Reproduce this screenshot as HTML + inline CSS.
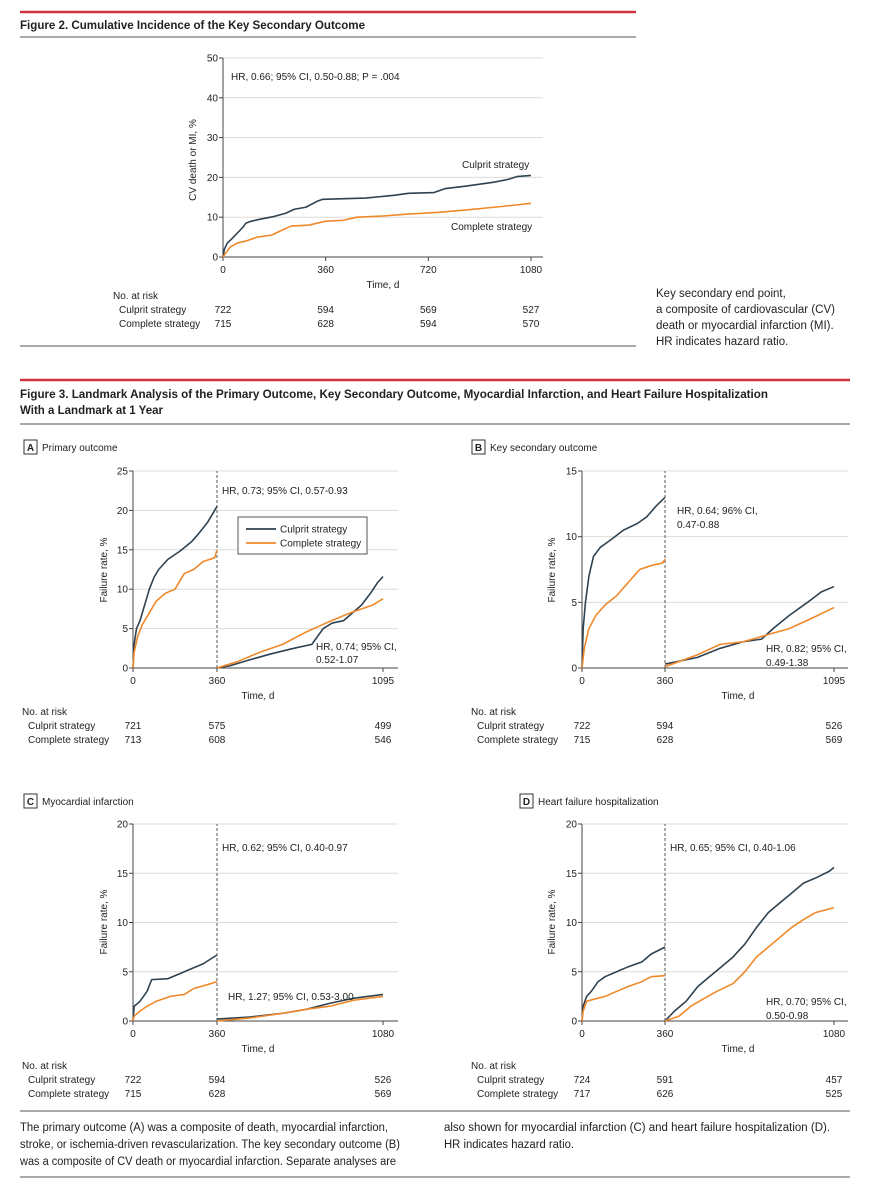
<!DOCTYPE html>
<html><head><meta charset="utf-8"><style>
body{margin:0;background:#fff;}
svg{display:block;font-family:"Liberation Sans",sans-serif;}
.t{font-size:10px;fill:#222}
.c{font-size:11.5px;fill:#222}
.h{font-size:12px;font-weight:bold;fill:#222}
</style></head><body>
<svg id="fig" width="871" height="1200" viewBox="0 0 871 1200">
<rect width="871" height="1200" fill="#fff"/>
<g>
<line x1="20" y1="12" x2="636" y2="12" stroke="#d0323f" stroke-width="2.5"/>
<text x="20" y="29" class="h" textLength="345" lengthAdjust="spacingAndGlyphs">Figure 2. Cumulative Incidence of the Key Secondary Outcome</text>
<line x1="20" y1="37" x2="636" y2="37" stroke="#777" stroke-width="1.2"/>
<line x1="20" y1="346" x2="636" y2="346" stroke="#777" stroke-width="1.2"/>
</g>
<g>
<text x="656" y="297" class="c">Key secondary end point,</text>
<text x="656" y="313" class="c">a composite of cardiovascular (CV)</text>
<text x="656" y="329" class="c">death or myocardial infarction (MI).</text>
<text x="656" y="345" class="c">HR indicates hazard ratio.</text>
</g>
<g>
<line x1="20" y1="380" x2="850" y2="380" stroke="#d0323f" stroke-width="2.5"/>
<text x="20" y="398" class="h" textLength="748" lengthAdjust="spacingAndGlyphs">Figure 3. Landmark Analysis of the Primary Outcome, Key Secondary Outcome, Myocardial Infarction, and Heart Failure Hospitalization</text>
<text x="20" y="414" class="h" textLength="143" lengthAdjust="spacingAndGlyphs">With a Landmark at 1 Year</text>
<line x1="20" y1="424" x2="850" y2="424" stroke="#777" stroke-width="1.2"/>
</g>
<g>
<line x1="20" y1="1111" x2="850" y2="1111" stroke="#777" stroke-width="1.2"/>
<text x="20" y="1131" class="c" textLength="368" lengthAdjust="spacingAndGlyphs">The primary outcome (A) was a composite of death, myocardial infarction,</text>
<text x="20" y="1148" class="c" textLength="380" lengthAdjust="spacingAndGlyphs">stroke, or ischemia-driven revascularization. The key secondary outcome (B)</text>
<text x="20" y="1165" class="c" textLength="376" lengthAdjust="spacingAndGlyphs">was a composite of CV death or myocardial infarction. Separate analyses are</text>
<text x="444" y="1131" class="c" textLength="386" lengthAdjust="spacingAndGlyphs">also shown for myocardial infarction (C) and heart failure hospitalization (D).</text>
<text x="444" y="1148" class="c" textLength="130" lengthAdjust="spacingAndGlyphs">HR indicates hazard ratio.</text>
<line x1="20" y1="1177" x2="850" y2="1177" stroke="#777" stroke-width="1.2"/>
</g>
</svg>
<script>
// ---- data ----
const topCulprit=[[0,0],[5,2],[15,3.5],[30,4.5],[50,6],[70,7.5],[80,8.5],[100,9],[130,9.5],[180,10.2],[220,11],[250,12],[290,12.5],[330,14],[350,14.5],[500,14.8],[600,15.5],[650,16],[740,16.2],[780,17.2],[850,17.8],[950,18.8],[1000,19.5],[1030,20.2],[1080,20.5]];
const topComplete=[[0,0],[10,1],[25,2.5],[50,3.5],[80,4],[120,5],[170,5.5],[200,6.5],[240,7.8],[300,8],[330,8.5],[360,9],[420,9.2],[470,10],[560,10.3],[650,10.8],[750,11.2],[850,11.8],[950,12.5],[1020,13],[1080,13.5]];
const aCulpritPre=[[0,0],[5,3],[15,5],[30,6],[50,8],[70,10],[90,11.5],[110,12.5],[150,13.8],[200,14.8],[250,16],[280,17],[320,18.5],[360,20.5]];
const aCompletePre=[[0,0],[5,2],[20,4],[40,5.5],[70,7],[100,8.5],[140,9.5],[180,10],[220,12],[260,12.5],[300,13.5],[350,14],[360,15]];
const aCulpritPost=[[360,0],[420,0.3],[500,1],[600,1.8],[700,2.5],[780,3],[830,5],[870,5.7],[920,6],[960,7],[1000,8],[1040,9.5],[1070,10.8],[1095,11.6]];
const aCompletePost=[[360,0],[450,0.8],[550,2],[650,3],[750,4.5],[850,5.8],[950,7],[1050,8],[1095,8.8]];
const bCulpritPre=[[0,0],[5,3],[15,5],[30,7],[50,8.5],[80,9.2],[120,9.7],[180,10.5],[240,11],[280,11.5],[320,12.3],[360,13]];
const bCompletePre=[[0,0],[10,1.5],[30,3],[60,4],[100,4.8],[150,5.5],[200,6.5],[250,7.5],[300,7.8],[350,8],[360,8.3]];
const bCulpritPost=[[360,0.3],[500,0.8],[600,1.5],[700,2],[780,2.2],[830,3],[900,4],[980,5],[1040,5.8],[1095,6.2]];
const bCompletePost=[[360,0.1],[500,1],[600,1.8],[700,2],[800,2.5],[900,3],[1000,3.8],[1095,4.6]];
const cCulpritPre=[[0,0],[5,1.5],[30,2],[60,3],[80,4.2],[150,4.3],[200,4.8],[250,5.3],[300,5.8],[360,6.7]];
const cCompletePre=[[0,0],[5,0.5],[30,1],[60,1.5],[100,2],[160,2.5],[220,2.7],[260,3.3],[320,3.7],[360,4]];
const cCulpritPost=[[360,0.2],[500,0.4],[650,0.8],[750,1.2],[850,1.8],[950,2.3],[1080,2.7]];
const cCompletePost=[[360,0],[500,0.3],[650,0.8],[750,1.2],[850,1.5],[950,2.1],[1080,2.5]];
const dCulpritPre=[[0,0],[5,1.5],[20,2.5],[40,3],[70,4],[100,4.5],[150,5],[200,5.5],[260,6],[300,6.8],[360,7.5]];
const dCompletePre=[[0,0],[5,1],[20,2],[50,2.2],[100,2.5],[150,3],[200,3.5],[260,4],[300,4.5],[360,4.6]];
const dCulpritPost=[[360,0],[400,1],[450,2],[500,3.5],[550,4.5],[600,5.5],[650,6.5],[700,7.8],[750,9.5],[800,11],[850,12],[900,13],[950,14],[1000,14.5],[1060,15.2],[1080,15.6]];
const dCompletePost=[[360,0],[420,0.5],[470,1.5],[520,2.2],[580,3],[650,3.8],[700,5],[750,6.5],[800,7.5],[850,8.5],[900,9.5],[950,10.3],[1000,11],[1080,11.5]];
const topYTicks=[0,10,20,30,40,50];
const topXTicks=[0,360,720,1080];
const aYTicks=[0,5,10,15,20,25];
const bYTicks=[0,5,10,15];
const cdYTicks=[0,5,10,15,20];
const topRisk=[["722","594","569","527"],["715","628","594","570"]];
const aRisk=[["721","575","499"],["713","608","546"]];
const bRisk=[["722","594","526"],["715","628","569"]];
const cRisk=[["722","594","526"],["715","628","569"]];
const dRisk=[["724","591","457"],["717","626","525"]];

const NS="http://www.w3.org/2000/svg";
const fig=document.getElementById('fig');
const DARK="#2f4250",ORANGE="#f0892a";
function mk(tag,attrs,parent,txt){const e=document.createElementNS(NS,tag);for(const k in attrs)e.setAttribute(k,attrs[k]);if(txt!==undefined)e.textContent=txt;(parent||fig).appendChild(e);return e;}

function panel(p){
  const g=mk('g',{});
  
  
  const x=d=>p.xs.length===2? p.xs[0]+(d-p.xd[0])*(p.xs[1]-p.xs[0])/(p.xd[1]-p.xd[0])
     : (d<=p.xd[1]? p.xs[0]+(d-p.xd[0])*(p.xs[1]-p.xs[0])/(p.xd[1]-p.xd[0]) : p.xs[1]+(d-p.xd[1])*(p.xs[2]-p.xs[1])/(p.xd[2]-p.xd[1]));
  const y=v=>p.y0+(v-0)*(p.y1-p.y0)/p.ymax;
  p.yticks.forEach(v=>{
    if(v>0){const gl=mk('line',{x1:p.xs[0],x2:p.gridEnd,y1:y(v),y2:y(v),stroke:'#dcdcdc','stroke-width':1},g);
      }
    mk('line',{x1:p.xs[0]-4,x2:p.xs[0],y1:y(v),y2:y(v),stroke:'#444'},g);
    const t=mk('text',{x:p.xs[0]-5,y:y(v)+3.5,'text-anchor':'end',class:'t'},g,String(v));
    
  });
  mk('line',{x1:p.xs[0],x2:p.xs[0],y1:y(0),y2:y(p.ymax),stroke:'#444'},g);
  mk('line',{x1:p.xs[0],x2:p.gridEnd,y1:y(0),y2:y(0),stroke:'#444'},g);
  p.xticks.forEach(d=>{
    mk('line',{x1:x(d),x2:x(d),y1:y(0),y2:y(0)+4,stroke:'#444'},g);
    const t=mk('text',{x:x(d),y:y(0)+16,'text-anchor':'middle',class:'t'},g,String(d));
    
  });
  if(p.landmark){const dl=mk('line',{x1:x(360),x2:x(360),y1:y(0),y2:y(p.ymax),stroke:'#555','stroke-dasharray':'3,2'},g);
    }
  const yl=mk('text',{transform:`translate(${p.ylx},${p.ylc}) rotate(-90)`,'text-anchor':'middle',class:'t'},g,p.ylabel);
  
  const xl=mk('text',{x:p.xlx,y:y(0)+31,'text-anchor':'middle',class:'t'},g,'Time, d');
  
  p.series.forEach(s=>{
    let d='';s.data.forEach((pt,i)=>{ d+=(i===0?'M':'L')+x(pt[0])+','+y(pt[1]);});
    const pa=mk('path',{d:d,fill:'none',stroke:s.color,'stroke-width':1.6,'stroke-linejoin':'round'},g);
    
  });
  const rt=mk('g',{},g);
  
  mk('text',{x:p.rx,y:p.ry,class:'t'},rt,'No. at risk');
  mk('text',{x:p.rx+6,y:p.ry+14,class:'t'},rt,'Culprit strategy');
  mk('text',{x:p.rx+6,y:p.ry+28,class:'t'},rt,'Complete strategy');
  p.risk.forEach((row,ri)=>row.forEach((v,ci)=>{
    mk('text',{x:x(p.xticksRisk[ci]),y:p.ry+14+14*ri,'text-anchor':'middle',class:'t'},rt,v);
  }));
  p.notes.forEach(n=>{const t=mk('text',{x:n[0],y:n[1],class:'t'},g,n[2]);
    });
  if(p.label){
    const lb=mk('g',{},g);
    mk('rect',{x:p.label[0],y:p.label[1]-11,width:13,height:14,fill:'#fff',stroke:'#333'},lb);
    mk('text',{x:p.label[0]+6.5,y:p.label[1],'text-anchor':'middle',class:'t','font-weight':'bold'},lb,p.label[2]);
    mk('text',{x:p.label[0]+18,y:p.label[1],class:'t','font-size':'11px'},lb,p.label[3]);
  }
  return {g,x,y};
}

panel({name:'figure-2-chart',xs:[223,531],xd:[0,1080],y0:257,y1:58,ymax:50,yticks:topYTicks,xticks:topXTicks,gridEnd:543,
  ylabel:'CV death or MI, %',ylx:196,ylc:160,xlx:383,
  series:[{name:'culprit-strategy-line',color:DARK,data:topCulprit},{name:'complete-strategy-line',color:ORANGE,data:topComplete}],
  rx:113,ry:299,risk:topRisk,xticksRisk:topXTicks,
  notes:[[231,80,'HR, 0.66; 95% CI, 0.50-0.88; P = .004'],[462,168,'Culprit strategy'],[451,230,'Complete strategy']]});

panel({name:'panel-a-primary-outcome',xs:[133,217,383],xd:[0,360,1095],y0:668,y1:471,ymax:25,yticks:aYTicks,xticks:[0,360,1095],gridEnd:398,landmark:true,
  ylabel:'Failure rate, %',ylx:107,ylc:570,xlx:258,
  series:[{name:'culprit-pre-landmark',color:DARK,data:aCulpritPre},{name:'complete-pre-landmark',color:ORANGE,data:aCompletePre},
          {name:'culprit-post-landmark',color:DARK,data:aCulpritPost},{name:'complete-post-landmark',color:ORANGE,data:aCompletePost}],
  rx:22,ry:715,risk:aRisk,xticksRisk:[0,360,1095],
  notes:[[222,494,'HR, 0.73; 95% CI, 0.57-0.93'],[316,650,'HR, 0.74; 95% CI,'],[316,663,'0.52-1.07']],
  label:[24,451,'A','Primary outcome']});
(function(){const lg=mk('g',{});

mk('rect',{x:238,y:517,width:129,height:37,fill:'#fff',stroke:'#555'},lg);
mk('line',{x1:246,x2:276,y1:529,y2:529,stroke:DARK,'stroke-width':1.8},lg);
mk('text',{x:280,y:532.5,class:'t'},lg,'Culprit strategy');
mk('line',{x1:246,x2:276,y1:543,y2:543,stroke:ORANGE,'stroke-width':1.8},lg);
mk('text',{x:280,y:546.5,class:'t'},lg,'Complete strategy');})();

panel({name:'panel-b-key-secondary-outcome',xs:[582,665,834],xd:[0,360,1095],y0:668,y1:471,ymax:15,yticks:bYTicks,xticks:[0,360,1095],gridEnd:848,landmark:true,
  ylabel:'Failure rate, %',ylx:555,ylc:570,xlx:738,
  series:[{name:'culprit-pre-landmark',color:DARK,data:bCulpritPre},{name:'complete-pre-landmark',color:ORANGE,data:bCompletePre},
          {name:'culprit-post-landmark',color:DARK,data:bCulpritPost},{name:'complete-post-landmark',color:ORANGE,data:bCompletePost}],
  rx:471,ry:715,risk:bRisk,xticksRisk:[0,360,1095],
  notes:[[677,514,'HR, 0.64; 96% CI,'],[677,528,'0.47-0.88'],[766,652,'HR, 0.82; 95% CI,'],[766,666,'0.49-1.38']],
  label:[472,451,'B','Key secondary outcome']});

panel({name:'panel-c-myocardial-infarction',xs:[133,217,383],xd:[0,360,1080],y0:1021,y1:824,ymax:20,yticks:cdYTicks,xticks:[0,360,1080],gridEnd:398,landmark:true,
  ylabel:'Failure rate, %',ylx:107,ylc:922,xlx:258,
  series:[{name:'culprit-pre-landmark',color:DARK,data:cCulpritPre},{name:'complete-pre-landmark',color:ORANGE,data:cCompletePre},
          {name:'culprit-post-landmark',color:DARK,data:cCulpritPost},{name:'complete-post-landmark',color:ORANGE,data:cCompletePost}],
  rx:22,ry:1069,risk:cRisk,xticksRisk:[0,360,1080],
  notes:[[222,851,'HR, 0.62; 95% CI, 0.40-0.97'],[228,1000,'HR, 1.27; 95% CI, 0.53-3.00']],
  label:[24,805,'C','Myocardial infarction']});

panel({name:'panel-d-heart-failure-hospitalization',xs:[582,665,834],xd:[0,360,1080],y0:1021,y1:824,ymax:20,yticks:cdYTicks,xticks:[0,360,1080],gridEnd:848,landmark:true,
  ylabel:'Failure rate, %',ylx:555,ylc:922,xlx:738,
  series:[{name:'culprit-pre-landmark',color:DARK,data:dCulpritPre},{name:'complete-pre-landmark',color:ORANGE,data:dCompletePre},
          {name:'culprit-post-landmark',color:DARK,data:dCulpritPost},{name:'complete-post-landmark',color:ORANGE,data:dCompletePost}],
  rx:471,ry:1069,risk:dRisk,xticksRisk:[0,360,1080],
  notes:[[670,851,'HR, 0.65; 95% CI, 0.40-1.06'],[766,1005,'HR, 0.70; 95% CI,'],[766,1019,'0.50-0.98']],
  label:[520,805,'D','Heart failure hospitalization']});
</script>
</body></html>
